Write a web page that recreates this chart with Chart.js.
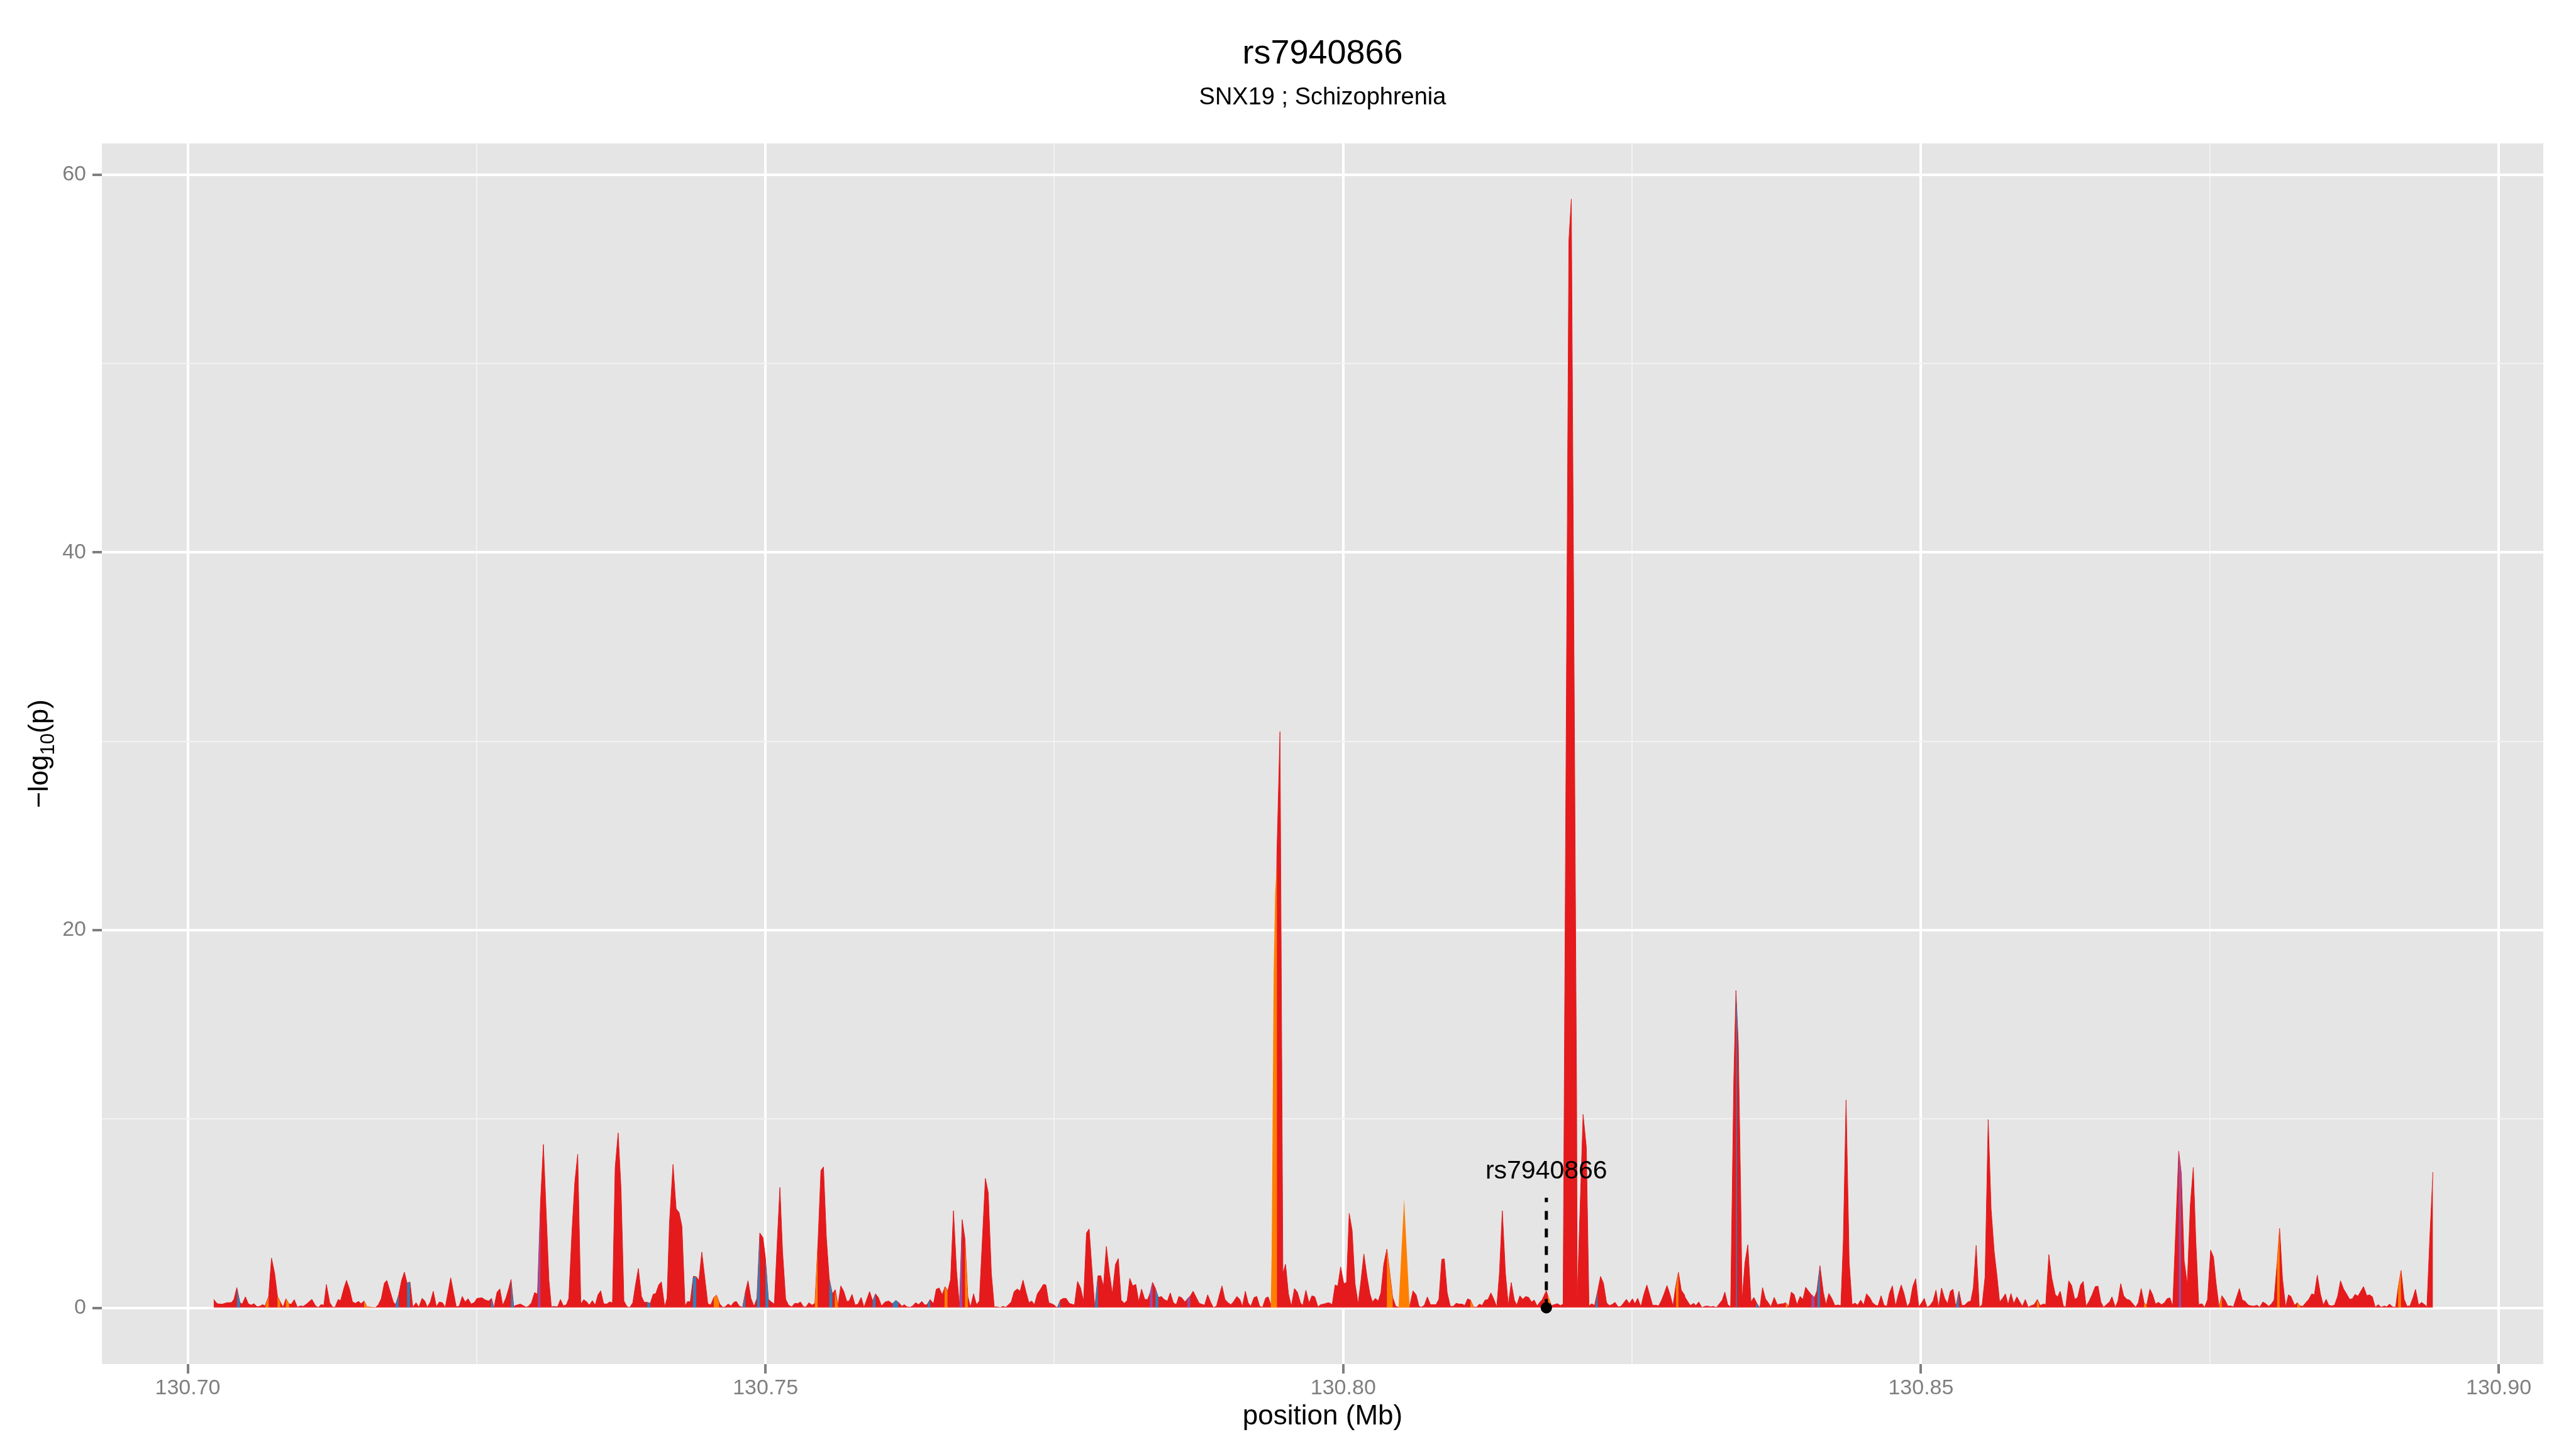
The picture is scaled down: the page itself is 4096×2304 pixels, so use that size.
<!DOCTYPE html>
<html>
<head>
<meta charset="utf-8">
<title>rs7940866 - SNX19 ; Schizophrenia</title>
<script src="https://cdn.jsdelivr.net/npm/chart.js@4.4.1/dist/chart.umd.min.js"></script>
<style>
  html, body { margin: 0; padding: 0; background: #ffffff; }
  canvas { display: block; }
</style>
</head>
<body>
<canvas id="locus_chart" width="4096" height="2304"></canvas>
<script>
// position in Mb, value is -log10(p)
// main (red) track, read left to right off the plot
const redPos = [
  130.70224, 130.70255, 130.70296, 130.70338, 130.70379, 130.70400, 130.70425, 130.70452, 130.70472, 130.70499,
  130.70524, 130.70549, 130.70572, 130.70601, 130.70622, 130.70649, 130.70669, 130.70700, 130.70725, 130.70752,
  130.70777, 130.70825, 130.70850, 130.70877, 130.70897, 130.70922, 130.70949, 130.70974, 130.71001, 130.71032,
  130.71074, 130.71105, 130.71130, 130.71153, 130.71178, 130.71200, 130.71229, 130.71255, 130.71275, 130.71302,
  130.71323, 130.71354, 130.71374, 130.71399, 130.71426, 130.71451, 130.71478, 130.71499, 130.71526, 130.71551,
  130.71571, 130.71623, 130.71650, 130.71675, 130.71702, 130.71723, 130.71779, 130.71799, 130.71826, 130.71851,
  130.71875, 130.71898, 130.71923, 130.71948, 130.71976, 130.72000, 130.72028, 130.72052, 130.72073, 130.72100,
  130.72125, 130.72152, 130.72177, 130.72204, 130.72229, 130.72276, 130.72324, 130.72349, 130.72376, 130.72401,
  130.72426, 130.72453, 130.72480, 130.72504, 130.72546, 130.72577, 130.72604, 130.72629, 130.72650, 130.72677,
  130.72701, 130.72726, 130.72753, 130.72778, 130.72798, 130.72821, 130.72846, 130.72878, 130.72903, 130.72930,
  130.72950, 130.72975, 130.73002, 130.73027, 130.73053, 130.73078, 130.73126, 130.73147, 130.73172, 130.73199,

  130.73205, 130.73226, 130.73251, 130.73278, 130.73298, 130.73325, 130.73350, 130.73375, 130.73402, 130.73427,
  130.73454, 130.73475, 130.73502, 130.73526, 130.73551, 130.73574, 130.73599, 130.73626, 130.73651, 130.73676,
  130.73699, 130.73725, 130.73750, 130.73775, 130.73800, 130.73823, 130.73852, 130.73875, 130.73900, 130.73927,
  130.73951, 130.73976, 130.74003, 130.74028, 130.74051, 130.74076, 130.74099, 130.74128, 130.74148, 130.74169,
  130.74200, 130.74227, 130.74252, 130.74277, 130.74304, 130.74327, 130.74349, 130.74376, 130.74401, 130.74424,
  130.74449, 130.74501, 130.74526, 130.74553, 130.74576, 130.74605, 130.74630, 130.74650, 130.74677, 130.74702,
  130.74729, 130.74749, 130.74775, 130.74802, 130.74826, 130.74849, 130.74874, 130.74901, 130.74926, 130.74951,
  130.74978, 130.74999, 130.75026, 130.75051, 130.75077, 130.75102, 130.75125, 130.75148, 130.75175, 130.75200,
  130.75227, 130.75254, 130.75279, 130.75303, 130.75330, 130.75351, 130.75376, 130.75403, 130.75428, 130.75455,
  130.75480, 130.75502, 130.75527, 130.75552, 130.75579, 130.75604, 130.75627, 130.75652, 130.75677, 130.75704,
  130.75724, 130.75749, 130.75776, 130.75801, 130.75828, 130.75853, 130.75901, 130.75928, 130.75952, 130.75977,
  130.76004, 130.76035, 130.76066, 130.76098, 130.76129, 130.76154, 130.76181, 130.76201, 130.76226, 130.76253,
  130.76274, 130.76299, 130.76326, 130.76353, 130.76378, 130.76398, 130.76425, 130.76450,

  130.76457, 130.76478, 130.76503, 130.76530, 130.76554, 130.76577, 130.76602, 130.76627, 130.76654, 130.76679,
  130.76702, 130.76727, 130.76751, 130.76774, 130.76801, 130.76826, 130.76851, 130.76878, 130.76903, 130.76928,
  130.76955, 130.76980, 130.77007, 130.77031, 130.77054, 130.77079, 130.77104, 130.77127, 130.77152, 130.77179,
  130.77204, 130.77229, 130.77255, 130.77280, 130.77303, 130.77328, 130.77353, 130.77380, 130.77405, 130.77427,
  130.77452, 130.77494, 130.77525, 130.77552, 130.77577, 130.77602, 130.77629, 130.77674, 130.77701, 130.77726,
  130.77753, 130.77778, 130.77801, 130.77826, 130.77850, 130.77877, 130.77902, 130.77925, 130.77950, 130.77977,
  130.78002, 130.78029, 130.78054, 130.78078, 130.78105, 130.78130, 130.78153, 130.78178, 130.78205, 130.78230,
  130.78255, 130.78282, 130.78307, 130.78329, 130.78350, 130.78375, 130.78400, 130.78427, 130.78452, 130.78479,
  130.78503, 130.78530, 130.78555, 130.78578, 130.78603, 130.78630, 130.78655, 130.78676, 130.78701, 130.78728,
  130.78754, 130.78800, 130.78827, 130.78852, 130.78877, 130.78904, 130.78929, 130.78951, 130.78976, 130.79003,
  130.79028, 130.79049, 130.79080, 130.79105, 130.79128, 130.79153, 130.79177, 130.79200, 130.79229, 130.79252,
  130.79277, 130.79302, 130.79329, 130.79350, 130.79381, 130.79426, 130.79453, 130.79478, 130.79501, 130.79526,
  130.79551, 130.79578, 130.79603, 130.79630, 130.79650, 130.79677, 130.79702,

  130.79708, 130.79729, 130.79754, 130.79781, 130.79805, 130.79832, 130.79857, 130.79878, 130.79905, 130.79930,
  130.79953, 130.79978, 130.80005, 130.80029, 130.80052, 130.80077, 130.80102, 130.80129, 130.80154, 130.80179,
  130.80206, 130.80231, 130.80253, 130.80278, 130.80303, 130.80326, 130.80351, 130.80378, 130.80403, 130.80428,
  130.80455, 130.80479, 130.80575, 130.80604, 130.80631, 130.80656, 130.80676, 130.80703, 130.80728, 130.80755,
  130.80780, 130.80803, 130.80828, 130.80853, 130.80875, 130.80900, 130.80927, 130.80952, 130.80977, 130.81004,
  130.81029, 130.81052, 130.81077, 130.81101, 130.81128, 130.81153, 130.81180, 130.81201, 130.81228, 130.81253,
  130.81278, 130.81300, 130.81329, 130.81352, 130.81377, 130.81404, 130.81429, 130.81454, 130.81481, 130.81502,
  130.81529, 130.81553, 130.81580, 130.81605, 130.81630, 130.81653, 130.81678, 130.81703, 130.81723, 130.81757,
  130.81782, 130.81802, 130.81827, 130.81854, 130.81881, 130.81903, 130.81953, 130.81974, 130.82020, 130.82025,
  130.82076, 130.82104, 130.82127, 130.82151, 130.82175, 130.82202, 130.82227, 130.82252, 130.82279, 130.82304,
  130.82326, 130.82352, 130.82379, 130.82404, 130.82428, 130.82451, 130.82476, 130.82503, 130.82524, 130.82549,
  130.82576, 130.82601, 130.82628, 130.82652, 130.82677, 130.82704, 130.82729, 130.82752, 130.82777, 130.82802,
  130.82829, 130.82854, 130.82876, 130.82901, 130.82926, 130.82953,

  130.82959, 130.82984, 130.83005, 130.83032, 130.83052, 130.83077, 130.83104, 130.83129, 130.83156, 130.83181,
  130.83204, 130.83229, 130.83256, 130.83280, 130.83303, 130.83328, 130.83353, 130.83380, 130.83399, 130.83419,
  130.83440, 130.83452, 130.83477, 130.83502, 130.83529, 130.83554, 130.83581, 130.83606, 130.83629, 130.83654,
  130.83679, 130.83701, 130.83730, 130.83757, 130.83782, 130.83809, 130.83830, 130.83855, 130.83878, 130.83902,
  130.83927, 130.83954, 130.83979, 130.84002, 130.84027, 130.84052, 130.84079, 130.84099, 130.84126, 130.84155,
  130.84178, 130.84203, 130.84228, 130.84255, 130.84280, 130.84307, 130.84328, 130.84352, 130.84379, 130.84404,
  130.84431, 130.84452, 130.84479, 130.84504, 130.84529, 130.84556, 130.84581, 130.84607, 130.84628, 130.84655,
  130.84680, 130.84705, 130.84728, 130.84753, 130.84780, 130.84804, 130.84829, 130.84852, 130.84881, 130.84904,
  130.84929, 130.84954, 130.84981, 130.85006, 130.85028, 130.85053, 130.85078, 130.85105, 130.85130, 130.85153,
  130.85178, 130.85205, 130.85230, 130.85255, 130.85277, 130.85302, 130.85329, 130.85354, 130.85379, 130.85406,
  130.85431, 130.85453, 130.85478, 130.85505, 130.85530, 130.85555, 130.85582, 130.85607, 130.85634, 130.85659,
  130.85681, 130.85706, 130.85731, 130.85754, 130.85779, 130.85803, 130.85830, 130.85855, 130.85878, 130.85903,
  130.85928, 130.85955, 130.85980, 130.86007, 130.86032, 130.86059, 130.86080, 130.86107, 130.86132, 130.86163,
  130.86184, 130.86204,

  130.86211, 130.86232, 130.86253, 130.86279, 130.86304, 130.86331, 130.86356, 130.86381, 130.86404, 130.86429,
  130.86456, 130.86481, 130.86508, 130.86532, 130.86557, 130.86580, 130.86605, 130.86632, 130.86653, 130.86682,
  130.86705, 130.86729, 130.86754, 130.86781, 130.86806, 130.86833, 130.86858, 130.86881, 130.86906, 130.86931,
  130.86953, 130.86982, 130.87005, 130.87030, 130.87055, 130.87082, 130.87107, 130.87130, 130.87154, 130.87179,
  130.87206, 130.87231, 130.87253, 130.87278, 130.87305, 130.87331, 130.87357, 130.87379, 130.87404, 130.87431,
  130.87455, 130.87480, 130.87507, 130.87532, 130.87555, 130.87580, 130.87604, 130.87631, 130.87656, 130.87683,
  130.87704, 130.87731, 130.87756, 130.87781, 130.87803, 130.87832, 130.87859, 130.87884, 130.87907, 130.87932,
  130.87959, 130.87984, 130.88009, 130.88032, 130.88056, 130.88083, 130.88104, 130.88129, 130.88156, 130.88181,
  130.88202, 130.88233, 130.88258, 130.88280, 130.88305, 130.88330, 130.88357, 130.88382, 130.88405, 130.88430,
  130.88457, 130.88482, 130.88507, 130.88529, 130.88554, 130.88579, 130.88606, 130.88631, 130.88658, 130.88683,
  130.88710, 130.88734, 130.88757, 130.88782, 130.88807, 130.88830, 130.88859, 130.88882, 130.88907, 130.88931,
  130.88958, 130.88983, 130.89010, 130.89031, 130.89055, 130.89082, 130.89108, 130.89130, 130.89155, 130.89182,
  130.89207, 130.89232, 130.89259, 130.89280, 130.89307, 130.89332, 130.89359, 130.89379, 130.89404, 130.89431
]
const redLogP = [
  0.45, 0.22, 0.19, 0.27, 0.28, 0.45, 1.07, 0.27, 0.2, 0.58,
  0.22, 0.14, 0.22, 0.06, 0.08, 0.17, 0.1, 0.6, 2.63, 1.83,
  0.6, 0.03, 0.48, 0.2, 0.2, 0.43, 0.03, 0.1, 0.08, 0.22,
  0.45, 0.12, 0.01, 0.17, 0.14, 1.23, 0.27, 0.03, 0.03, 0.44,
  0.38, 1.09, 1.45, 1.02, 0.31, 0.24, 0.34, 0.22, 0.36, 0.05,
  0.05, 0, 0.17, 0.48, 1.31, 1.45, 0.31, 0.17, 0.69, 1.45,
  1.89, 1.31, 1.37, 0.03, 0.27, 0.03, 0.5, 0.36, 0.03, 0.31,
  0.88, 0.05, 0.31, 0.27, 0.03, 1.59, 0.05, 0.09, 0.6, 0.31,
  0.48, 0.2, 0.28, 0.5, 0.53, 0.41, 0.36, 0.5, 0, 0.83,
  1.0, 0.14, 0.5, 1.02, 1.5, 0.08, 0.14, 0.2, 0.12, 0.03,
  0.09, 0.27, 0.81, 0.72, 5.6, 8.65, 1.45, 0.05, 0.08, 0.05,

  0.12, 0.44, 0.1, 0.17, 0.5, 4.0, 6.66, 8.13, 0.2, 0.43,
  0.31, 0.14, 0.38, 0.14, 0.69, 0.9, 0.22, 0.2, 0.31, 0.27,
  7.41, 9.26, 6.28, 0.36, 0.08, 0, 0.27, 1.21, 2.08, 0.6,
  0.29, 0.29, 0.24, 0.72, 0.76, 1.21, 1.38, 0.05, 0.5, 4.48,
  7.59, 5.24, 5.05, 4.31, 0.1, 0.34, 0.31, 1.67, 1.64, 1.45,
  2.95, 0.22, 0.15, 0.55, 0.67, 0.2, 0.03, 0.05, 0.2, 0.1,
  0.31, 0.33, 0.08, 0.03, 0.83, 1.43, 0.5, 0.08, 0.5, 3.96,
  3.72, 2.68, 0.45, 0.31, 0.2, 3.53, 6.37, 2.96, 0.45, 0.14,
  0.05, 0.24, 0.22, 0.31, 0.05, 0.05, 0.27, 0.14, 0.24, 3.53,
  7.27, 7.46, 3.72, 1.54, 0.74, 0.96, 0.12, 1.16, 0.88, 0.34,
  0.36, 0.71, 0.14, 0.2, 0.55, 0.03, 0.86, 0.36, 0.74, 0.55,
  0.1, 0.31, 0.36, 0.22, 0.39, 0.27, 0.08, 0.17, 0.05, 0.03,
  0.1, 0.27, 0.17, 0.34, 0.15, 0.17, 0.44, 0.24,

  0.31, 0.98, 1.05, 0.69, 1.12, 0.88, 1.5, 5.14, 1.92, 0.08,
  4.67, 3.63, 0.6, 0.03, 0.74, 0.17, 0.36, 3.72, 6.85, 6.09,
  1.83, 0.05, 0.05, 0, 0.08, 0.03, 0.17, 0.31, 0.86, 1.0,
  0.88, 1.47, 0.83, 0.27, 0.36, 0.17, 0.74, 0.98, 1.24, 1.21,
  0.27, 0.17, 0, 0.41, 0.5, 0.5, 0.24, 0.15, 1.4, 1.07,
  0.36, 3.96, 4.18, 2.02, 0, 1.69, 1.7, 1.12, 3.25, 1.83,
  0.74, 2.3, 2.61, 0.41, 0.24, 0.38, 1.56, 1.16, 1.24, 0.33,
  0.99, 0.45, 0.44, 0.79, 1.35, 1.02, 0.55, 0.6, 0.43, 0.36,
  0.79, 0.27, 0.17, 0.6, 0.53, 0.31, 0.5, 0.62, 0.88, 0.55,
  0.24, 0.14, 0.69, 0.31, 0, 0.1, 0.69, 1.16, 0.45, 0.27,
  0.17, 0.31, 0.6, 0.45, 0.08, 0.88, 0.27, 0.08, 0.55, 0.6,
  0.08, 0.03, 0.52, 0.58, 0.05, 24.0, 30.5, 1.83, 2.3, 0.74,
  0.08, 1.02, 0.83, 0.27, 0.12, 0.93, 0.31,

  0.31, 0.64, 0.58, 0.05, 0.17, 0.2, 0.25, 0.27, 0.17, 1.21,
  1.15, 2.16, 1.28, 1.34, 5.0, 4.1, 1.31, 0.2, 1.45, 2.85,
  1.64, 0.74, 0.31, 0.5, 0.36, 0.79, 2.3, 3.11, 1.83, 0.55,
  0.08, 0.03, 0.08, 0.9, 0.69, 0.08, 0.03, 0.14, 0.58, 0.17,
  0.17, 0.17, 0.45, 2.57, 2.59, 0.79, 0.08, 0.08, 0.24, 0.2,
  0.2, 0.12, 0.48, 0.41, 0.05, 0.03, 0.2, 0.12, 0.41, 0.44,
  0.79, 0.5, 0.05, 1.83, 5.14, 1.83, 0.14, 1.34, 0.41, 0.14,
  0.64, 0.45, 0.6, 0.55, 0.31, 0.41, 0.1, 0.31, 0.44, 0.9,
  0.45, 0.12, 0.17, 0.22, 0.12, 0.2, 56.5, 58.7, 11, 0.48,
  10.24, 8.5, 0.1, 0.22, 0.12, 0.88, 1.66, 1.31, 0.27, 0.12,
  0.17, 0.29, 0.05, 0.08, 0.27, 0.45, 0.22, 0.48, 0.22, 0.5,
  0.05, 0.69, 1.21, 0.69, 0.14, 0.14, 0.1, 0.36, 0.74, 1.18,
  0.69, 0.1, 1.07, 1.88, 0.93, 0.69,

  0.55, 0.31, 0.12, 0.24, 0.12, 0.31, 0.01, 0.08, 0.09, 0.05,
  0.08, 0.01, 0.22, 0.41, 0.83, 0.17, 0.05, 12, 16.8, 14,
  6, 0.4, 2.4, 3.34, 0.31, 0.55, 0.22, 0, 1.07, 0.48,
  0.27, 0.05, 0.55, 0.17, 0.2, 0.22, 0.27, 0.05, 0.83, 0.71,
  0.17, 0.6, 0.45, 1.09, 0.88, 0.69, 0.55, 0.88, 2.23, 0.83,
  0.17, 0.76, 0.5, 0.12, 0.15, 0.12, 3.53, 11.0, 2.4, 0.17,
  0.25, 0.14, 0.41, 0.14, 0.74, 0.55, 0.27, 0.14, 0.1, 0.64,
  0.14, 0.08, 0.79, 1.16, 0.08, 0.69, 1.21, 0.79, 0.05, 0.27,
  1.12, 1.54, 0.05, 0.27, 0.5, 0.03, 0.12, 0.36, 0.93, 0.03,
  1.05, 0.5, 0.22, 0.88, 0.98, 0.05, 0.88, 0.12, 0.14, 0.31,
  0.36, 1.05, 3.3, 0.03, 0.17, 1.64, 9.97, 5.24, 2.96, 1.64,
  0.31, 0.5, 0.74, 0.17, 0.76, 0.22, 0.58, 0.31, 0.08, 0.44,
  0.03, 0.12, 0.17, 0.44, 0.12, 0.2, 0.17, 2.82, 1.59, 0.69,
  0.58, 0.88,

  0.74, 0.1, 0.03, 1.43, 1.18, 0.45, 0.55, 1.21, 1.4, 0.08,
  0.36, 0.69, 1.12, 1.15, 0.31, 0.03, 0.17, 0.31, 0.58, 0.03,
  0.36, 1.28, 0.64, 0.45, 0.41, 0.22, 0.03, 0.27, 1.02, 0.27,
  0.12, 0.99, 0.69, 0.2, 0.29, 0.17, 0.27, 0.48, 0.53, 0.08,
  4.29, 8.29, 7.13, 2.49, 1.26, 5.43, 7.43, 3.53, 0.17, 0.22,
  0.03, 0.43, 3.06, 2.68, 1.26, 0.03, 0.64, 0.41, 0.1, 0.1,
  0.05, 0.55, 1.02, 0.41, 0.36, 0.15, 0.1, 0.09, 0.14, 0.03,
  0.31, 0.22, 0.08, 0.2, 0.41, 2.4, 4.2, 1.54, 0.05, 0.69,
  0.6, 0.14, 0.27, 0.1, 0.08, 0.27, 0.45, 0.74, 0.69, 1.73,
  0.74, 0.14, 0.45, 0.14, 0.1, 0.14, 0.6, 1.43, 0.99, 0.74,
  0.45, 0.48, 0.71, 0.62, 0.88, 1.12, 0.64, 0.69, 0.58, 0.03,
  0.17, 0.03, 0.1, 0.05, 0.2, 0.05, 0.03, 1.07, 1.97, 0.45,
  0.08, 0.1, 0.55, 0.98, 0.14, 0.29, 0.17, 0.05, 3.72, 7.18
]

// the other LD groups only show up as thin slivers, each one closed at 0
const orangePos = [
  130.70673, 130.70673, 130.70700, 130.70700,
  130.70777, 130.70777, 130.70800, 130.70800,
  130.70850, 130.70850, 130.70877, 130.70877,
  130.71526, 130.71526, 130.71551, 130.71602, 130.71602,
  130.74553, 130.74553, 130.74576, 130.74598, 130.74598,
  130.75428, 130.75428, 130.75451, 130.75451,
  130.75600, 130.75600, 130.75627, 130.75627,
  130.76550, 130.76550, 130.76575, 130.76575,
  130.76727, 130.76727, 130.76751, 130.76751,
  130.79373, 130.79381, 130.79398, 130.79411, 130.79426, 130.79427,
  130.80378, 130.80378, 130.80403, 130.80428, 130.80428,
  130.80479, 130.80527, 130.80575,
  130.81101, 130.81101, 130.81128, 130.81128,
  130.81771, 130.81771, 130.81792, 130.81792,
  130.82881, 130.82881, 130.82901, 130.82901,
  130.83830, 130.83830, 130.83846, 130.83846,
  130.86003, 130.86003, 130.86023, 130.86023,
  130.86931, 130.86931, 130.86953, 130.86953,
  130.87584, 130.87584, 130.87604, 130.87604,
  130.88083, 130.88083, 130.88104, 130.88104,
  130.88258, 130.88258, 130.88280, 130.88280,
  130.89130, 130.89130, 130.89155, 130.89155
]
const orangeLogP = [
  0, 0.1, 0.6, 0,
  0, 0.6, 0.33, 0,
  0, 0.48, 0.2, 0,
  0, 0.36, 0.05, 0.05, 0,
  0, 0.55, 0.67, 0.3, 0,
  0, 0.24, 3.2, 0,
  0, 0.9, 0.12, 0,
  0, 1.1, 0.9, 0,
  0, 3.63, 0.6, 0,
  0, 3, 17.7, 22, 23.5, 0,
  0, 3.11, 1.83, 0.55, 0,
  0, 5.76, 0,
  0, 0.41, 0.05, 0,
  0, 0.7, 0.3, 0,
  0, 1.1, 1.88, 0,
  0, 0.27, 0.1, 0,
  0, 0.42, 0.18, 0,
  0, 0.27, 0.12, 0,
  0, 0.1, 0.64, 0,
  0, 2.4, 4.2, 0,
  0, 0.27, 0.1, 0,
  0, 1.07, 1.97, 0
]

const bluePos = [
  130.70425, 130.70425, 130.70452, 130.70452,
  130.71799, 130.71799, 130.71826, 130.71826,
  130.71898, 130.71898, 130.71923, 130.71923,
  130.72625, 130.72625, 130.72650,
  130.72798, 130.72798, 130.72821, 130.72821,
  130.73158, 130.73172, 130.73178,
  130.73976, 130.73976, 130.74003, 130.74003,
  130.74372, 130.74372, 130.74401, 130.74401,
  130.74630, 130.74640, 130.74650,
  130.74802, 130.74826, 130.74826,
  130.74926, 130.74926, 130.74951, 130.74951,
  130.74999, 130.74999, 130.75026, 130.75026,
  130.75552, 130.75552, 130.75579, 130.75579,
  130.75928, 130.75928, 130.75952, 130.75952,
  130.76102, 130.76102, 130.76129, 130.76149, 130.76149,
  130.76404, 130.76404, 130.76425, 130.76425,
  130.77529, 130.77552, 130.77552,
  130.77850, 130.77877, 130.77877,
  130.78375, 130.78375, 130.78400, 130.78400,
  130.82180, 130.82202, 130.82202,
  130.83399, 130.83399, 130.83408, 130.83408,
  130.83572, 130.83572, 130.83597, 130.83597,
  130.84104, 130.84104, 130.84126, 130.84126,
  130.85302, 130.85329, 130.85329
]
const blueLogP = [
  0, 1.07, 0.27, 0,
  0, 0.17, 0.69, 0,
  0, 1.31, 1.37, 0,
  0, 0.5, 0,
  0, 1.5, 0.08, 0,
  0, 0.08, 0,
  0, 0.29, 0.24, 0,
  0, 1.6, 1.64, 0,
  0, 0.04, 0,
  0, 0.83, 0,
  0, 0.5, 3.96, 0,
  0, 2.68, 0.45, 0,
  0, 1.54, 0.74, 0,
  0, 0.36, 0.74, 0,
  0, 0.25, 0.39, 0.29, 0,
  0, 0.2, 0.44, 0,
  0, 0.41, 0,
  0, 1.69, 0,
  0, 1.02, 0.55, 0,
  0, 0.88, 0,
  0, 16.8, 15.5, 0,
  0, 0.25, 0.05, 0,
  0, 0.95, 2.23, 0,
  0, 0.88, 0
]

const purplePos = [
  130.73030, 130.73030, 130.73052, 130.73052,
  130.76679, 130.76679, 130.76702, 130.76702,
  130.78327, 130.78327, 130.78350, 130.78350,
  130.78651, 130.78651, 130.78676, 130.78676,
  130.84052, 130.84052, 130.84079, 130.84079,
  130.87231, 130.87231, 130.87253, 130.87253
]
const purpleLogP = [
  0, 1.3, 5.4, 0,
  0, 0.08, 4.67, 0,
  0, 0.79, 1.35, 0,
  0, 0.5, 0.62, 0,
  0, 0.69, 0.55, 0,
  0, 8.29, 7.13, 0
]

// axis ticks (minor ones have no label)
const xTicks = [130.70, 130.725, 130.75, 130.775, 130.80, 130.825, 130.85, 130.875, 130.90]
const xLabelled = [130.70, 130.75, 130.80, 130.85, 130.90]
const yTicks = [0, 10, 20, 30, 40, 50, 60]
const yLabelled = [0, 20, 40, 60]

// the index SNP marker
const leadSnp = 'rs7940866'
const leadPos = 130.81758
const leadLineTop = 5.83
const leadLabelY = 6.83

const chartTitle = 'rs7940866'
const chartSubtitle = 'SNX19 ; Schizophrenia'
const xTitle = 'position (Mb)'

if (redPos.length !== redLogP.length) console.error('red arrays differ', redPos.length, redLogP.length)
if (orangePos.length !== orangeLogP.length) console.error('orange arrays differ')
if (bluePos.length !== blueLogP.length) console.error('blue arrays differ')
if (purplePos.length !== purpleLogP.length) console.error('purple arrays differ')

const fontFamily = '"Liberation Sans", Arial, Helvetica, sans-serif'
const toPoints = (pos, vals) => pos.map((x, i) => ({ x: x, y: vals[i] }))

const isMajorX = v => xLabelled.some(t => Math.abs(t - v) < 1e-9)
const isMajorY = v => yLabelled.includes(v)

// grey panel + white background
const panelPlugin = {
  id: 'panel',
  beforeDraw(chart) {
    const ctx = chart.ctx
    const a = chart.chartArea
    ctx.save()
    ctx.fillStyle = '#ffffff'
    ctx.fillRect(0, 0, chart.width, chart.height)
    ctx.fillStyle = '#E5E5E5'
    ctx.fillRect(a.left, a.top, a.right - a.left, a.bottom - a.top)
    ctx.restore()
  }
}

// titles, axis titles and the lead SNP label
const textPlugin = {
  id: 'texts',
  afterDatasetsDraw(chart) {
    const ctx = chart.ctx
    const xs = chart.scales.x
    const ys = chart.scales.y
    ctx.save()
    ctx.fillStyle = '#000000'
    ctx.font = '41px ' + fontFamily
    ctx.textAlign = 'center'
    ctx.textBaseline = 'alphabetic'
    ctx.fillText(leadSnp, xs.getPixelForValue(leadPos), ys.getPixelForValue(leadLabelY))
    ctx.restore()
  },
  afterDraw(chart) {
    const ctx = chart.ctx
    const a = chart.chartArea
    const midX = (a.left + a.right) / 2
    const midY = (a.top + a.bottom) / 2
    ctx.save()
    ctx.fillStyle = '#000000'
    ctx.textAlign = 'center'
    ctx.textBaseline = 'alphabetic'

    ctx.font = '54px ' + fontFamily
    ctx.fillText(chartTitle, midX, 101)
    ctx.font = '38px ' + fontFamily
    ctx.fillText(chartSubtitle, midX, 166)

    ctx.font = '44px ' + fontFamily
    ctx.fillText(xTitle, midX, 2265)

    // y title: -log10(p) with subscript, turned upright
    const parts = [
      { t: '\u2212log', size: 44, dy: 0 },
      { t: '10', size: 31, dy: 10 },
      { t: '(p)', size: 44, dy: 0 }
    ]
    let total = 0
    parts.forEach(p => {
      ctx.font = p.size + 'px ' + fontFamily
      p.w = ctx.measureText(p.t).width
      total += p.w
    })
    ctx.translate(76, midY)
    ctx.rotate(-Math.PI / 2)
    ctx.textAlign = 'left'
    let cx = -total / 2
    parts.forEach(p => {
      ctx.font = p.size + 'px ' + fontFamily
      ctx.fillText(p.t, cx, p.dy)
      cx += p.w
    })
    ctx.restore()
  }
}

let canvas = document.querySelector('#locus_chart')

let locusChart = new Chart(canvas, {
  type: 'line',
  data: {
    datasets: [
      {
        label: 'lead SNP',
        data: [{ x: leadPos, y: 0 }, { x: leadPos, y: leadLineTop }],
        borderColor: '#000000',
        borderWidth: 5,
        borderDash: [14, 14],
        fill: false,
        pointRadius: [9, 0],
        pointBackgroundColor: '#000000',
        pointBorderWidth: 0,
        clip: false,
        order: 0
      },
      {
        label: 'baseline',
        data: [{ x: redPos[0], y: 0 }, { x: redPos[redPos.length - 1], y: 0 }],
        borderColor: 'rgba(255,255,255,0.45)',
        borderWidth: 2,
        fill: false,
        pointRadius: 0,
        order: 1
      },
      {
        label: 'orange',
        data: toPoints(orangePos, orangeLogP),
        backgroundColor: '#FF7F00',
        borderColor: 'rgba(0,0,0,0)',
        borderWidth: 0,
        fill: 'origin',
        pointRadius: 0,
        order: 2
      },
      {
        label: 'blue',
        data: toPoints(bluePos, blueLogP),
        backgroundColor: '#377EB8',
        borderColor: 'rgba(0,0,0,0)',
        borderWidth: 0,
        fill: 'origin',
        pointRadius: 0,
        order: 3
      },
      {
        label: 'purple',
        data: toPoints(purplePos, purpleLogP),
        backgroundColor: '#984EA3',
        borderColor: 'rgba(0,0,0,0)',
        borderWidth: 0,
        fill: 'origin',
        pointRadius: 0,
        order: 4
      },
      {
        label: 'red',
        data: toPoints(redPos, redLogP),
        backgroundColor: '#E41A1C',
        borderColor: '#E41A1C',
        borderWidth: 1,
        fill: 'origin',
        pointRadius: 0,
        order: 5
      }
    ]
  },
  options: {
    responsive: false,
    maintainAspectRatio: false,
    devicePixelRatio: 1,
    animation: false,
    events: [],
    layout: {
      padding: { left: 0, top: 228, right: 52, bottom: 0 }
    },
    elements: {
      line: { tension: 0 },
      point: { radius: 0, hoverRadius: 0 }
    },
    plugins: {
      legend: { display: false },
      tooltip: { enabled: false },
      title: { display: false }
    },
    scales: {
      x: {
        type: 'linear',
        min: 130.69257,
        max: 130.90386,
        afterFit: scale => { scale.height = 135 },
        afterBuildTicks: axis => { axis.ticks = xTicks.map(v => ({ value: v })) },
        border: { display: false },
        grid: {
          color: ctx => (ctx.tick && isMajorX(ctx.tick.value)) ? '#FFFFFF' : '#F2F2F2',
          lineWidth: ctx => (ctx.tick && isMajorX(ctx.tick.value)) ? 4 : 2,
          tickColor: ctx => (ctx.tick && isMajorX(ctx.tick.value)) ? '#7F7F7F' : 'rgba(0,0,0,0)',
          tickWidth: 4,
          tickLength: 15,
          drawTicks: true
        },
        ticks: {
          autoSkip: false,
          maxRotation: 0,
          minRotation: 0,
          padding: 3,
          color: '#7F7F7F',
          font: { family: fontFamily, size: 34 },
          callback: v => isMajorX(v) ? v.toFixed(2) : ''
        }
      },
      y: {
        type: 'linear',
        min: -2.98,
        max: 61.65,
        afterFit: scale => { scale.width = 162 },
        afterBuildTicks: axis => { axis.ticks = yTicks.map(v => ({ value: v })) },
        border: { display: false },
        grid: {
          color: ctx => (ctx.tick && isMajorY(ctx.tick.value)) ? '#FFFFFF' : '#F2F2F2',
          lineWidth: ctx => (ctx.tick && isMajorY(ctx.tick.value)) ? 4 : 2,
          tickColor: ctx => (ctx.tick && isMajorY(ctx.tick.value)) ? '#7F7F7F' : 'rgba(0,0,0,0)',
          tickWidth: 4,
          tickLength: 15,
          drawTicks: true
        },
        ticks: {
          autoSkip: false,
          padding: 10,
          color: '#7F7F7F',
          font: { family: fontFamily, size: 34 },
          callback: v => isMajorY(v) ? String(v) : ''
        }
      }
    }
  },
  plugins: [panelPlugin, textPlugin]
})
</script>
</body>
</html>
